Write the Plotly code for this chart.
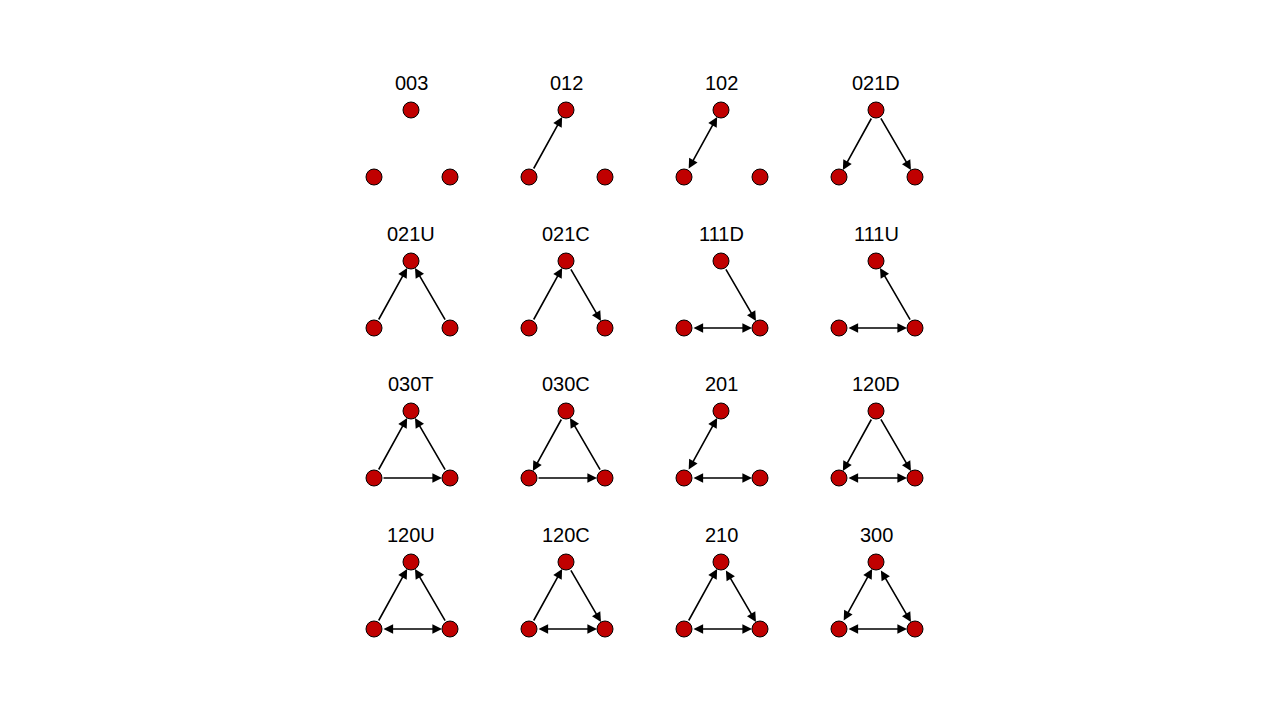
import plotly.graph_objects as go

# triad census types, row by row
labels = ["003", "012", "102", "021D",
          "021U", "021C", "111D", "111U",
          "030T", "030C", "201", "120D",
          "120U", "120C", "210", "300"]

# edges per triad: (from, to, both_ways); nodes T=top, L=left, R=right
edges = [
    [],
    [("L", "T", False)],
    [("L", "T", True)],
    [("T", "L", False), ("T", "R", False)],
    [("L", "T", False), ("R", "T", False)],
    [("L", "T", False), ("T", "R", False)],
    [("T", "R", False), ("L", "R", True)],
    [("R", "T", False), ("L", "R", True)],
    [("L", "T", False), ("R", "T", False), ("L", "R", False)],
    [("T", "L", False), ("R", "T", False), ("L", "R", False)],
    [("L", "T", True), ("L", "R", True)],
    [("T", "L", False), ("T", "R", False), ("L", "R", True)],
    [("L", "T", False), ("R", "T", False), ("L", "R", True)],
    [("L", "T", False), ("T", "R", False), ("L", "R", True)],
    [("L", "T", False), ("T", "R", True), ("L", "R", True)],
    [("L", "T", True), ("T", "R", True), ("L", "R", True)],
]

col_x = [403, 558, 713, 868]
row_y = [102, 253, 403, 554]

fig = go.Figure()
nx, ny = [], []
annotations = []
for i, lab in enumerate(labels):
    cx, cy = col_x[i % 4], row_y[i // 4]
    pos = {"T": (cx, cy), "L": (cx - 37, cy + 67), "R": (cx + 39, cy + 67)}
    for p in pos.values():
        nx.append(p[0]); ny.append(p[1])
    annotations.append(dict(x=cx, y=cy - 27, text=lab, showarrow=False,
                            xref="x", yref="y",
                            font=dict(size=20, color="black", family="Liberation Sans")))
    for a, b, both in edges[i]:
        (x0, y0), (x1, y1) = pos[a], pos[b]
        annotations.append(dict(
            x=x1, y=y1, ax=x0, ay=y0, xref="x", yref="y", axref="x", ayref="y",
            text="", showarrow=True, arrowhead=2, startarrowhead=2,
            arrowside="end+start" if both else "end",
            arrowsize=1.2, startarrowsize=1.2, arrowwidth=1.6, arrowcolor="black",
            standoff=8, startstandoff=8))

fig.add_trace(go.Scatter(x=nx, y=ny, mode="markers", hoverinfo="skip",
                         marker=dict(size=16, color="#c00000",
                                     line=dict(color="black", width=1))))
fig.update_layout(
    width=1280, height=720, margin=dict(l=0, r=0, t=0, b=0),
    paper_bgcolor="white", plot_bgcolor="white", showlegend=False,
    annotations=annotations,
    xaxis=dict(range=[0, 1280], visible=False),
    yaxis=dict(range=[720, 0], visible=False),
)
fig.write_html("out.html")
